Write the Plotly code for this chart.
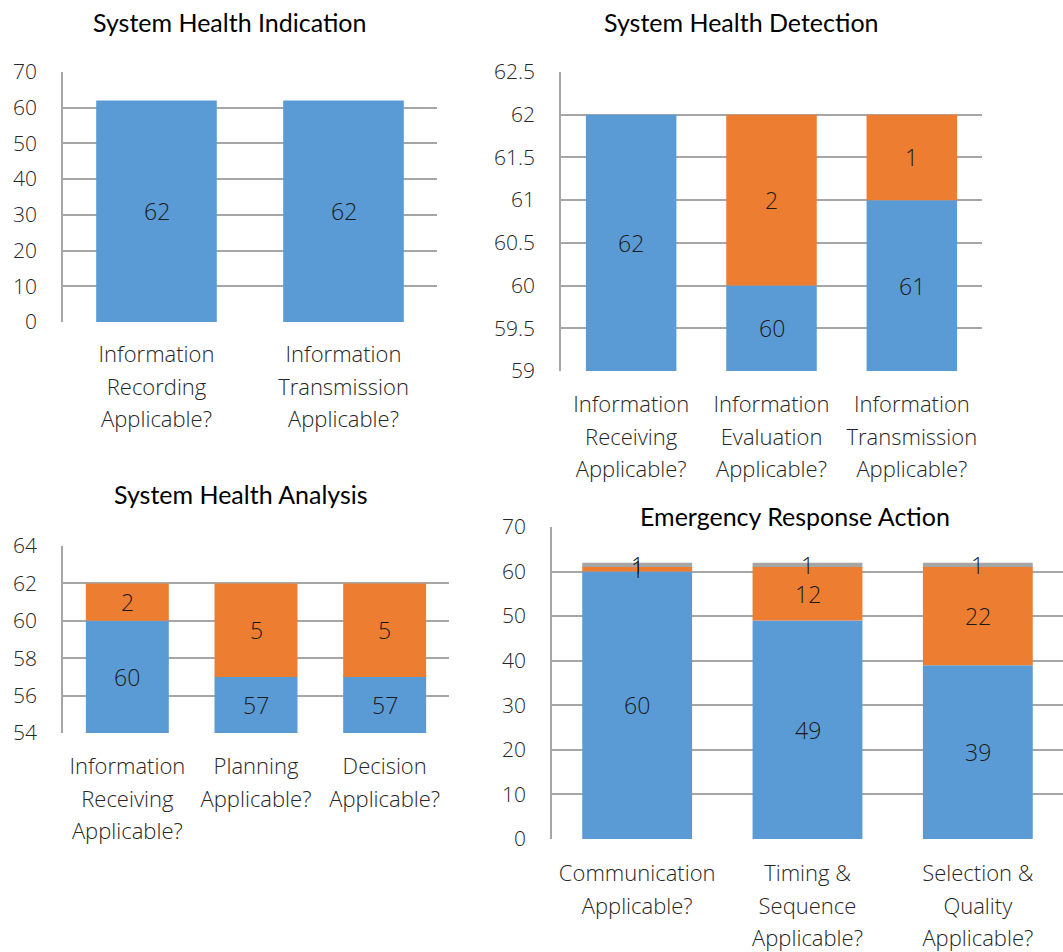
import plotly.graph_objects as go

W, H = 1063, 952

# ---- data ----
ind_cats = ["Information<br>Recording<br>Applicable?", "Information<br>Transmission<br>Applicable?"]
ind_yes = [62, 62]

det_cats = ["Information<br>Receiving<br>Applicable?", "Information<br>Evaluation<br>Applicable?",
            "Information<br>Transmission<br>Applicable?"]
det_yes = [62, 60, 61]
det_no = [0, 2, 1]

ana_cats = ["Information<br>Receiving<br>Applicable?", "Planning<br>Applicable?", "Decision<br>Applicable?"]
ana_yes = [60, 57, 57]
ana_no = [2, 5, 5]

era_cats = ["Communication<br>Applicable?", "Timing &<br>Sequence<br>Applicable?",
            "Selection &<br>Quality<br>Applicable?"]
era_yes = [60, 49, 39]
era_no = [1, 12, 22]
era_na = [1, 1, 1]

BLUE, ORANGE, GREY = "#5B9BD5", "#ED7D31", "#A5A5A5"
GRID = "#A6A6A6"
TXT = "#1a1a1a"
TICK = "#262626"
FONT = "Open Sans"
TFONT = "Lato"
LABEL_PX = 22      # glyph size of category labels
LEAD_PX = 25       # base size that sets their line spacing


def tick_text(cat):
    # each line at LABEL_PX, with the looser line pitch of the LEAD_PX base font
    return "<br>".join(f"<span style='font-size:{LABEL_PX}px'>{ln}</span>" for ln in cat.split("<br>"))


# plot boxes in px: [x0, x1, ytop, ybottom]
panels = [
    dict(ax="", box=(63, 437, 72, 322), rng=(0, 70), dtick=10, ystand=20, xstand=14,
         title="System Health Indication", tx=230, ty=22,
         cats=ind_cats, series=[(ind_yes, BLUE)]),
    dict(ax="2", box=(561, 982, 72, 371), rng=(59, 62.5), dtick=0.5, ystand=20, xstand=15,
         title="System Health Detection", tx=741, ty=22,
         cats=det_cats, series=[(det_yes, BLUE), (det_no, ORANGE)]),
    dict(ax="3", box=(63, 449, 546, 733), rng=(54, 64), dtick=2, ystand=20, xstand=15,
         title="System Health Analysis", tx=241, ty=494,
         cats=ana_cats, series=[(ana_yes, BLUE), (ana_no, ORANGE)]),
    dict(ax="4", box=(552, 1063, 527, 839), rng=(0, 70), dtick=10, ystand=20, xstand=16,
         title="Emergency Response Action", tx=795, ty=516,
         cats=era_cats, series=[(era_yes, BLUE), (era_no, ORANGE), (era_na, GREY)]),
]

fig = go.Figure()
annotations = []
layout = {}

for p in panels:
    xa, ya = "x" + p["ax"], "y" + p["ax"]
    x0, x1, yt, yb = p["box"]
    lo, hi = p["rng"]
    base = [0] * len(p["cats"])
    for vals, col in p["series"]:
        fig.add_trace(go.Bar(x=p["cats"], y=vals, base=base, marker=dict(color=col, line=dict(width=0)),
                             xaxis=xa, yaxis=ya, showlegend=False, hoverinfo="skip"))
        # value labels centred on the visible part of each segment
        for c, b, v in zip(p["cats"], base, vals):
            if v <= 0:
                continue
            top = b + v
            mid = (max(b, lo) + min(top, hi)) / 2
            annotations.append(dict(x=c, y=mid, xref=xa, yref=ya, text=str(v), showarrow=False,
                                    font=dict(family=FONT, size=23, color=TXT, weight=300)))
        base = [b + v for b, v in zip(base, vals)]

    annotations.append(dict(x=p["tx"] / W, y=1 - p["ty"] / H, xref="paper", yref="paper",
                            text=p["title"], showarrow=False, xanchor="center", yanchor="middle",
                            font=dict(family=TFONT, size=25, color="#000000")))

    key = p["ax"]
    layout["xaxis" + key] = dict(domain=[x0 / W, x1 / W], anchor=ya, type="category",
                                 tickvals=p["cats"], ticktext=[tick_text(c) for c in p["cats"]],
                                 showgrid=False, showline=False, zeroline=False, ticks="",
                                 ticklabelstandoff=p["xstand"], fixedrange=True, automargin=False,
                                 tickfont=dict(family=FONT, size=LEAD_PX, color=TICK, weight=300))
    layout["yaxis" + key] = dict(domain=[1 - yb / H, 1 - yt / H], anchor=xa, range=[lo, hi],
                                 dtick=p["dtick"], tick0=lo, showgrid=True, gridcolor=GRID, gridwidth=1.5,
                                 zeroline=False, showline=True, linecolor=GRID, linewidth=1.5,
                                 ticks="", ticklabelstandoff=p["ystand"], fixedrange=True, automargin=False,
                                 tickfont=dict(family=FONT, size=21, color=TICK, weight=300))

fig.update_layout(width=W, height=H, margin=dict(l=0, r=0, t=0, b=0, pad=0, autoexpand=False),
                  paper_bgcolor="white", plot_bgcolor="white", barmode="overlay", bargap=0.355,
                  showlegend=False, annotations=annotations, **layout)

fig.write_html("out.html")
